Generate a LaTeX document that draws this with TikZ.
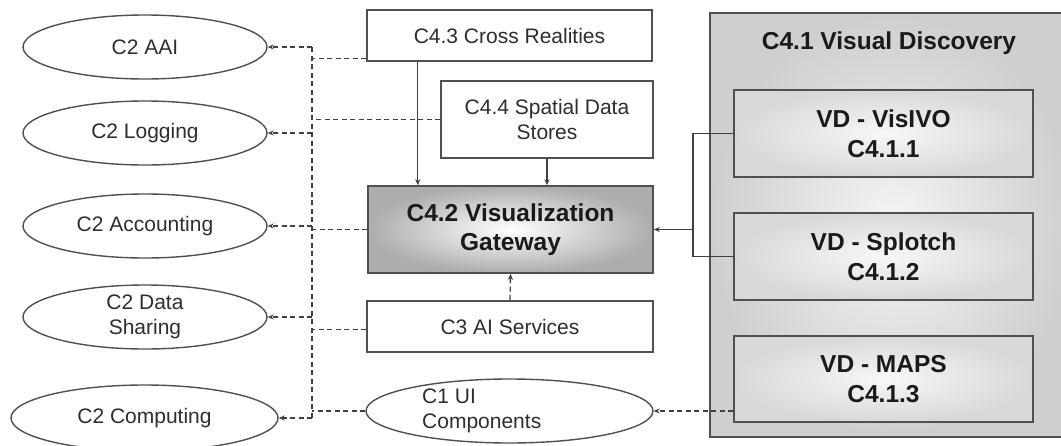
\documentclass[tikz,border=0pt]{standalone}
\usepackage{fontspec}
\setmainfont{Liberation Sans}
\usetikzlibrary{arrows.meta,shapes.geometric,calc}
\definecolor{ink}{HTML}{2E2E2E}
\definecolor{darkink}{HTML}{1A1A1A}
\definecolor{edge}{HTML}{505050}
\definecolor{wire}{HTML}{404040}
\begin{document}
\begin{tikzpicture}[x=1pt,y=-1pt,
  every node/.style={text=ink, font=\fontsize{21}{25}\selectfont},
  svc/.style={ellipse, draw=edge, line width=1.4pt, inner sep=0pt,
    minimum width=244pt, minimum height=64pt, align=center},
  comp/.style={rectangle, draw=edge, line width=1.6pt, inner sep=0pt,
    fill=white, align=center, minimum width=285pt},
  boldtxt/.style={text=darkink, font=\bfseries\fontsize{24.5}{29.5}\selectfont},
  gwbox/.style={comp, boldtxt, shade, inner color=white, outer color=black!32},
  vdbox/.style={rectangle, draw=edge, line width=1.6pt, inner sep=0pt,
    minimum width=299pt, minimum height=87pt, align=center, boldtxt,
    shade, inner color=black!3, outer color=black!15},
  tip/.style={-{Stealth[length=6pt,width=5pt]}},
  dashline/.style={draw=wire, line width=1.3pt, dash pattern=on 5pt off 3.5pt},
  dep/.style={dashline, tip},
  link/.style={draw=wire, line width=1.3pt},
  flow/.style={link, tip}]
\useasboundingbox (0,0) rectangle (1061,445);

% C4.1 container (runs past the right edge)
\node[rectangle, draw=edge, line width=1.6pt, shade, inner color=black!4,
  outer color=black!19, minimum width=365pt, minimum height=424pt, inner sep=0pt]
  (vd) at (892.5,225) {};
\node[boldtxt] (vdtitle) at (889,43) {C4.1 Visual Discovery};
\node[vdbox] (vd1) at (883.5,133.5) {VD - VisIVO\\C4.1.1};
\node[vdbox] (vd2) at (883.5,256.5) {VD - Splotch\\C4.1.2};
\node[vdbox, minimum height=86pt] (vd3) at (883.5,379) {VD - MAPS\\C4.1.3};

% C2 services
\node[svc] (aai)   at (145,47)  {C2 AAI};
\node[svc] (logg)  at (145,133) {C2 Logging};
\node[svc] (acct)  at (145,226) {C2 Accounting};
\node[svc] (share) at (145,317) {C2 Data\\Sharing};
\node[svc, minimum width=267pt, minimum height=66pt] (comp) at (144.5,418) {C2 Computing};

% Middle column
\node[comp, minimum height=51pt] (c43) at (509.5,35.5) {C4.3 Cross Realities};
\node[comp, minimum width=212pt, minimum height=77pt] (c44) at (547,119.5)
  {C4.4 Spatial Data\\Stores};
\node[gwbox, minimum height=87pt] (gw) at (510.5,229.5) {C4.2 Visualization\\Gateway};
\node[comp, minimum width=286pt, minimum height=51pt] (c3) at (510,326.5) {C3 AI Services};
\node[ellipse, draw=edge, line width=1.4pt, inner sep=0pt, minimum width=287pt,
  minimum height=64pt] (c1) at (509.5,411) {};
\node[anchor=west, align=left, inner sep=0pt] (c1txt) at ($(c1.center)+(-87.5,0)$)
  {C1 UI\\Components};

% Dashed bus towards the C2 services
\coordinate (trunk) at (312,0);
\draw[dashline] (aai.east -| trunk) -- (comp.east -| trunk);
\foreach \n in {aai,logg,acct,share,comp}
  \draw[dep] (\n.east -| trunk) -- (\n.east);
\coordinate (c43in) at ($(c43.south west)+(0,-3)$);
\coordinate (c3in) at ($(c3.west)+(0,3)$);
\foreach \p in {c43in,c44.west,gw.west,c3in,c1.west}
  \draw[dashline] (\p) -- (\p -| trunk);

% Feeds into the gateway
\coordinate (c43out) at ($(c43.south west)!0.18!(c43.south east)$);
\draw[flow] (c43out) -- (c43out |- gw.north);
\draw[flow] (c44.south) -- (c44.south |- gw.north);
\draw[dep] (c3.north) -- (gw.south);

% Visual discovery links
\coordinate (jn) at (693,0);
\draw[link] (vd1.west) -- (vd1.west -| jn) -- (vd2.west -| jn) -- (vd2.west);
\draw[flow] (gw.east -| jn) -- (gw.east);
\draw[dep] (c1.east -| vd3.west) -- (c1.east);
\end{tikzpicture}
\end{document}
